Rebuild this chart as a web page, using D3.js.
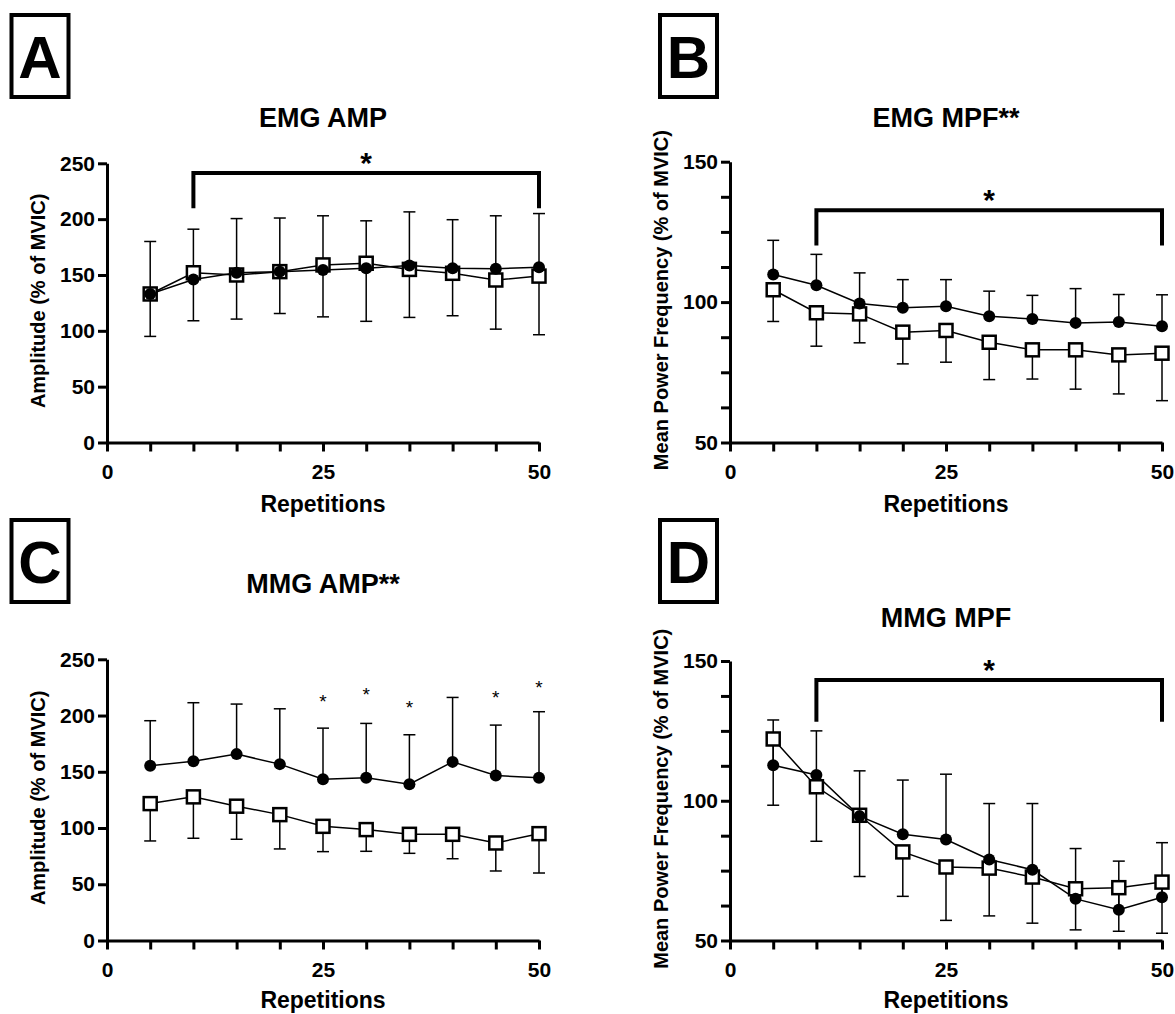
<!DOCTYPE html>
<html>
<head>
<meta charset="utf-8">
<script src="https://cdn.jsdelivr.net/npm/d3@7"></script>
<style>
  body { margin: 0; background: #fff; }
  text { font-family: "Liberation Sans", Arial, sans-serif; }
</style>
</head>
<body>
<svg id="fig" width="1175" height="1014"></svg>
<script>
// repetitions (x values) shared by every panel
var reps = [5, 10, 15, 20, 25, 30, 35, 40, 45, 50];

// A - EMG AMP
var emgAmpCircle   = [133, 146, 152, 153, 154.5, 156, 158.5, 156, 155.5, 157];
var emgAmpSquare   = [133, 152, 150, 153, 159, 160.5, 155, 151.5, 145.5, 149];
var emgAmpCircleHi = [180, 191, 200.5, 201, 203, 198.5, 206.5, 199.5, 203, 205];
var emgAmpSquareLo = [95, 109, 110.5, 115.5, 112.5, 108.5, 112, 113.5, 101.5, 96.5];

// B - EMG MPF
var emgMpfCircle   = [109.8, 106, 99.5, 98, 98.5, 95, 94, 92.6, 92.9, 91.4];
var emgMpfSquare   = [104.4, 96.2, 95.8, 89.3, 89.9, 85.7, 83, 83, 81.2, 81.8];
var emgMpfCircleHi = [122, 117, 110.4, 108, 108, 103.9, 102.4, 104.8, 102.7, 102.6];
var emgMpfSquareLo = [93.1, 84.3, 85.5, 78, 78.6, 72.4, 72.6, 69, 67.3, 64.9];

// C - MMG AMP
var mmgAmpCircle   = [155.3, 159.4, 165.7, 156.8, 143.4, 144.6, 138.9, 158.8, 146.7, 144.6];
var mmgAmpSquare   = [121.7, 127.7, 119.4, 111.9, 101.5, 98.6, 94.4, 94.4, 86.7, 95];
var mmgAmpCircleHi = [195.4, 211.4, 210.2, 206, 188.8, 193, 182.9, 216.1, 191.5, 203.4];
var mmgAmpSquareLo = [88.5, 90.9, 90, 81.4, 79, 79.3, 77.5, 72.7, 61.8, 60];
var mmgAmpStarReps = [25, 30, 35, 45, 50];
var mmgAmpStarVals = [216.7, 222.7, 210.8, 219.7, 229.2];

// D - MMG MPF
var mmgMpfCircle   = [112.7, 109.2, 94.5, 88, 86.1, 79, 75.3, 64.9, 61, 65.5];
var mmgMpfSquare   = [122.1, 105, 94.8, 81.7, 76.3, 75.9, 72.7, 68.5, 68.9, 70.9];
var mmgMpfCircleHi = [128.9, 125, 110.7, 107.4, 109.5, 99, 99, 82.9, 78.4, 85];
var mmgMpfSquareLo = [98.4, 85.5, 72.9, 65.8, 57.2, 58.8, 56.2, 53.8, 53.3, 52.6];

var ampTicks = [0, 50, 100, 150, 200, 250];
var mpfTicks = [50, 62.5, 75, 87.5, 100, 112.5, 125, 137.5, 150];
var mpfLabels = [50, 100, 150];
var xTicks = [0, 5, 10, 15, 20, 25, 30, 35, 40, 45, 50];
var xLabels = [0, 25, 50];

var ampLabel = "Amplitude (% of MVIC)";
var mpfLabel = "Mean Power Frequency (% of MVIC)";

var panels = [
  { letter: "A", title: "EMG AMP", ylabel: ampLabel, domain: [0, 250], ticks: ampTicks, labels: ampTicks,
    circle: emgAmpCircle, square: emgAmpSquare, hi: emgAmpCircleHi, lo: emgAmpSquareLo,
    bracket: [241.3, 209.7],
    left: 107, right: 539, top: 163.3, bottom: 442.5, box: [11.5, 15], titleY: 127, ylabX: 45, xlabY: 512 },
  { letter: "B", title: "EMG MPF**", ylabel: mpfLabel, domain: [50, 150], ticks: mpfTicks, labels: mpfLabels,
    circle: emgMpfCircle, square: emgMpfSquare, hi: emgMpfCircleHi, lo: emgMpfSquareLo,
    bracket: [132.7, 120.2],
    left: 730, right: 1162, top: 161.7, bottom: 442.5, box: [660, 15], titleY: 127, ylabX: 668, xlabY: 512 },
  { letter: "C", title: "MMG AMP**", ylabel: ampLabel, domain: [0, 250], ticks: ampTicks, labels: ampTicks,
    circle: mmgAmpCircle, square: mmgAmpSquare, hi: mmgAmpCircleHi, lo: mmgAmpSquareLo,
    stars: true,
    left: 107, right: 539, top: 659.3, bottom: 940.5, box: [11.5, 520], titleY: 593, ylabX: 45, xlabY: 1008 },
  { letter: "D", title: "MMG MPF", ylabel: mpfLabel, domain: [50, 150], ticks: mpfTicks, labels: mpfLabels,
    circle: mmgMpfCircle, square: mmgMpfSquare, hi: mmgMpfCircleHi, lo: mmgMpfSquareLo,
    bracket: [143.2, 128.3],
    left: 730, right: 1162, top: 661, bottom: 940.5, box: [660, 520], titleY: 627, ylabX: 668, xlabY: 1008 }
];

var svg = d3.select("#fig");
panels.forEach(drawPanel);

function drawPanel(p) {
  var g = svg.append("g");
  var x = d3.scaleLinear().domain([0, 50]).range([p.left, p.right]);
  var y = d3.scaleLinear().domain(p.domain).range([p.bottom, p.top]);
  var cx = (p.left + p.right) / 2;

  // panel letter in a box
  g.append("rect")
    .attr("x", p.box[0]).attr("y", p.box[1])
    .attr("width", 57).attr("height", 82)
    .attr("fill", "none").attr("stroke", "#000").attr("stroke-width", 4);
  g.append("text")
    .attr("x", p.box[0] + 28.5).attr("y", p.box[1] + 62.5)
    .attr("text-anchor", "middle")
    .style("font-size", "60px").style("font-weight", "bold")
    .text(p.letter);

  g.append("text")
    .attr("x", cx).attr("y", p.titleY)
    .attr("text-anchor", "middle")
    .style("font-size", "27px").style("font-weight", "bold")
    .text(p.title);

  // axes
  var yAxis = d3.axisLeft(y).tickValues(p.ticks).tickSizeInner(9).tickSizeOuter(0).tickPadding(3)
    .tickFormat(function(d) { return p.labels.indexOf(d) >= 0 ? d : ""; });
  var xAxis = d3.axisBottom(x).tickValues(xTicks).tickSizeInner(9).tickSizeOuter(0).tickPadding(13)
    .tickFormat(function(d) { return xLabels.indexOf(d) >= 0 ? d : ""; });

  [g.append("g").attr("transform", "translate(" + p.left + ",0)").call(yAxis),
   g.append("g").attr("transform", "translate(0," + p.bottom + ")").call(xAxis)]
    .forEach(function(ax) {
      ax.selectAll("path, line").attr("stroke", "#000").attr("stroke-width", 3);
      ax.selectAll("text").attr("fill", "#000")
        .style("font-size", "21px").style("font-weight", "bold")
        .style("font-family", "'Liberation Sans', Arial, sans-serif");
    });

  g.append("text")
    .attr("transform", "translate(" + p.ylabX + "," + ((p.top + p.bottom) / 2 - 2) + ") rotate(-90)")
    .attr("text-anchor", "middle")
    .style("font-size", "20px").style("font-weight", "bold")
    .text(p.ylabel);
  g.append("text")
    .attr("x", cx).attr("y", p.xlabY)
    .attr("text-anchor", "middle")
    .style("font-size", "23px").style("font-weight", "bold")
    .text("Repetitions");

  // error bars: circles go up, squares go down
  var bars = [];
  reps.forEach(function(r, i) {
    bars.push({ r: r, from: p.circle[i], to: p.hi[i] });
    bars.push({ r: r, from: p.square[i], to: p.lo[i] });
  });
  var eb = g.append("g").attr("stroke", "#000").attr("stroke-width", 1.5);
  eb.selectAll("line.v").data(bars).enter().append("line")
    .attr("x1", function(d) { return x(d.r); }).attr("x2", function(d) { return x(d.r); })
    .attr("y1", function(d) { return y(d.from); }).attr("y2", function(d) { return y(d.to); });
  eb.selectAll("line.cap").data(bars).enter().append("line")
    .attr("x1", function(d) { return x(d.r) - 6; }).attr("x2", function(d) { return x(d.r) + 6; })
    .attr("y1", function(d) { return y(d.to); }).attr("y2", function(d) { return y(d.to); });

  var line = d3.line().x(function(d, i) { return x(reps[i]); }).y(function(d) { return y(d); });
  g.append("path").datum(p.square).attr("d", line)
    .attr("fill", "none").attr("stroke", "#000").attr("stroke-width", 1.5);
  g.append("path").datum(p.circle).attr("d", line)
    .attr("fill", "none").attr("stroke", "#000").attr("stroke-width", 1.5);

  g.selectAll("rect.sq").data(p.square).enter().append("rect")
    .attr("x", function(d, i) { return x(reps[i]) - 6.5; })
    .attr("y", function(d) { return y(d) - 6.5; })
    .attr("width", 13).attr("height", 13)
    .attr("fill", "#fff").attr("stroke", "#000").attr("stroke-width", 2.5);
  g.selectAll("circle.ci").data(p.circle).enter().append("circle")
    .attr("cx", function(d, i) { return x(reps[i]); })
    .attr("cy", function(d) { return y(d); })
    .attr("r", 6).attr("fill", "#000");

  // significance bracket from rep 10 to rep 50
  if (p.bracket) {
    var top = y(p.bracket[0]), end = y(p.bracket[1]);
    g.append("path")
      .attr("d", "M" + x(10) + "," + end + "V" + top + "H" + x(50) + "V" + end)
      .attr("fill", "none").attr("stroke", "#000").attr("stroke-width", 4);
    g.append("text")
      .attr("x", (x(10) + x(50)) / 2).attr("y", top)
      .attr("text-anchor", "middle")
      .style("font-size", "30px").style("font-weight", "bold")
      .text("*");
  }
  if (p.stars) {
    g.selectAll("text.star").data(mmgAmpStarReps).enter().append("text")
      .attr("x", function(d) { return x(d); })
      .attr("y", function(d, i) { return y(mmgAmpStarVals[i]) + 11; })
      .attr("text-anchor", "middle")
      .style("font-size", "19px")
      .text("*");
  }
}
</script>
</body>
</html>
